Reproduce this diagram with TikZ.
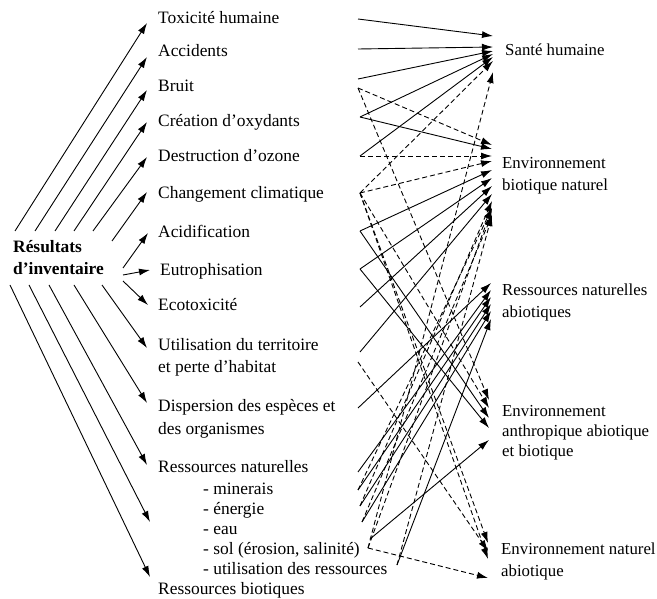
\documentclass[tikz,border=0pt]{standalone}
\usepackage{fontspec}
\setmainfont{Liberation Serif}
\usetikzlibrary{arrows.meta}
\begin{document}
\begin{tikzpicture}[x=1pt,y=-1pt,
  lbl/.style={anchor=base west, inner sep=0pt, font=\fontsize{17.4}{21}\selectfont},
  rlbl/.style={anchor=base west, inner sep=0pt, font=\fontsize{16.8}{21}\selectfont},
  hdr/.style={lbl, font=\fontsize{17.4}{21}\selectfont\bfseries},
  arr/.style={-{Latex[length=11pt,width=7pt]}, line width=0.9pt},
  dsh/.style={arr, dash pattern=on 5pt off 3pt},
]
\useasboundingbox (0,0) rectangle (657,599);
\fill[white] (0,0) rectangle (657,599);

% ---- header
\node[hdr] (res1) at (13,253) {Résultats};
\node[hdr] (res2) at (13,275) {d’inventaire};

% ---- impact categories
\node[lbl] (tox) at (158,24) {Toxicité humaine};
\node[lbl] (acc) at (158,57) {Accidents};
\node[lbl] (bru) at (158,92) {Bruit};
\node[lbl] (cre) at (158,127) {Création d’oxydants};
\node[lbl] (des) at (158,162) {Destruction d’ozone};
\node[lbl] (chg) at (158,199) {Changement climatique};
\node[lbl] (aci) at (158,238) {Acidification};
\node[lbl] (eut) at (160,276) {Eutrophisation};
\node[lbl] (eco) at (158,310) {Ecotoxicité};
\node[lbl] (utl) at (158,351) {Utilisation du territoire};
\node[lbl] (utlb) at (158,373) {et perte d’habitat};
\node[lbl] (dis) at (158,411) {Dispersion des espèces et};
\node[lbl] (disb) at (158,434) {des organismes};
\node[lbl] (rn) at (158,472) {Ressources naturelles};
\node[lbl] (min) at (203,494) {- minerais};
\node[lbl] (ene) at (203,514) {- énergie};
\node[lbl] (eau) at (203,534) {- eau};
\node[lbl] (sol) at (203,554) {- sol (érosion, salinité)};
\node[lbl] (uti) at (203,574) {- utilisation des ressources};
\node[lbl] (rb) at (158,594) {Ressources biotiques};

% ---- areas of protection
\node[rlbl] (SH) at (505,56) {Santé humaine};
\node[rlbl] (EB) at (502,169) {Environnement};
\node[rlbl] (EBb) at (502,191) {biotique naturel};
\node[rlbl] (RNA) at (502,295) {Ressources naturelles};
\node[rlbl] (RNAb) at (502,317) {abiotiques};
\node[rlbl] (EA) at (502,416) {Environnement};
\node[rlbl] (EAb) at (502,436) {anthropique abiotique};
\node[rlbl] (EAc) at (502,456) {et biotique};
\node[rlbl] (ENA) at (501,554) {Environnement naturel};
\node[rlbl] (ENAb) at (501,576) {abiotique};

% ---- left fan: tails and heads
\foreach \n/\tx/\ty/\hx/\hy in {
  t1/15/231/147/23, t2/35/231/147/57, t3/55/231/147/90, t4/74/231/147/122,
  t5/93/231/147/157, t6/112/241/147/192, t7/123/268/148/233, t8/123/275/150/270,
  t9/123/281/148/305, t10/102/285/147/348, t11/74/285/147/403, t12/49/285/147/465,
  t13/29/285/150/522, t14/10/285/150/577}{
  \coordinate (\n a) at (\tx,\ty);
  \coordinate (\n b) at (\hx,\hy);
  \draw[arr] (\n a) -- (\n b);
}

% ---- right ports (sources)
\coordinate (pTox) at (358,19);
\coordinate (pAcc) at (358,49);
\coordinate (pBru) at (358,79);
\coordinate (pBru2) at (358,88);
\coordinate (pCre) at (360,117);
\coordinate (pDes) at (360,156);
\coordinate (pChg) at (360,193);
\coordinate (pAci) at (360,231);
\coordinate (pEut) at (360,269);
\coordinate (pEco) at (360,307);
\coordinate (pUtl) at (360,352);
\coordinate (pUtl2) at (358,362);
\coordinate (pDis) at (358,408);
\coordinate (pRn) at (358,472);
\coordinate (pMin) at (358,490);
\coordinate (pEne) at (360,506);
\coordinate (pEau) at (362,522);
\coordinate (pSol) at (370,539);
\coordinate (pSol2) at (368,548);
\coordinate (pUti) at (397,565);

% ---- targets (arrow tips)
\foreach \n/\y in {s1/36,s2/47,s3/51,s4/54,s5/57,s6/61,s7/72}{\coordinate (\n) at (493,\y);}
\foreach \n/\y in {b1/145,b2/149,b3/156,b4/161,b5/170,b6/178,b7/186,b8/194,b9/201,b10/208,b11/215}{\coordinate (\n) at (492,\y);}
\foreach \n/\y in {r1/283,r2/290,r3/297,r4/304,r5/311,r6/319}{\coordinate (\n) at (491,\y);}
\foreach \n/\y in {a1/400,a2/408,a3/418,a4/428,a5/440}{\coordinate (\n) at (489,\y);}
\foreach \n/\y in {n1/543,n2/551,n3/559,n4/567,n5/578}{\coordinate (\n) at (488,\y);}

% ---- connectors
\foreach \a/\b/\s in {
  pTox/s1/arr, pAcc/s2/arr, pBru/s3/arr, pCre/s4/arr, pDes/s5/arr,
  pChg/s6/dsh, pSol2/s7/dsh,
  pBru2/b1/dsh, pCre/b2/arr, pDes/b3/dsh, pChg/b4/dsh, pAci/b5/arr,
  pEut/b6/arr, pEco/b7/arr, pUtl/b8/arr, pEne/b9/dsh,
  pMin/b10/dsh, pSol2/b10/dsh, pEau/b11/dsh, pUti/b11/dsh,
  pDis/r1/arr, pRn/r2/arr, pMin/r3/arr, pEne/r4/arr, pEau/r5/arr, pUti/r6/arr,
  pBru2/a1/dsh, pChg/a2/dsh, pAci/a3/arr, pEut/a4/arr, pSol/a5/arr,
  pChg/n1/dsh, pUtl2/n2/dsh, pChg/n3/dsh, pSol2/n5/dsh}{
  \draw[\s] (\a) -- (\b);
}
\end{tikzpicture}
\end{document}
